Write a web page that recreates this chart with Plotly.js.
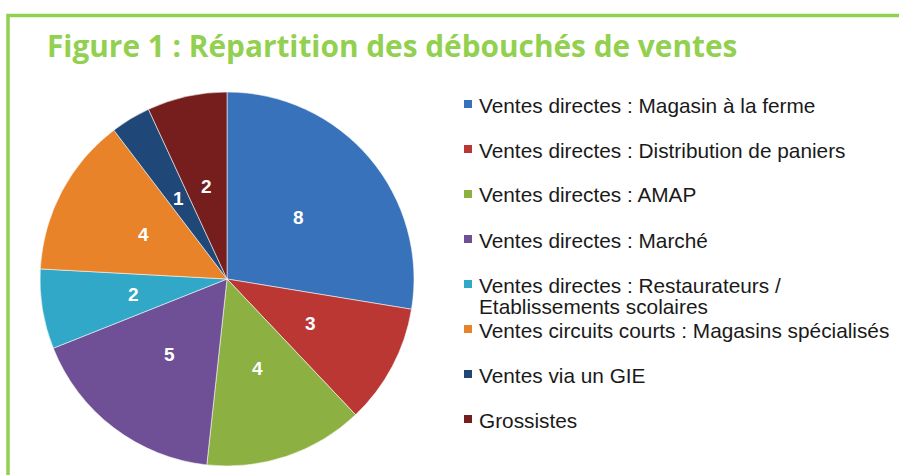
<!DOCTYPE html>
<html>
<head>
<meta charset="utf-8">
<script src="https://cdn.plot.ly/plotly-3.0.1.min.js"></script>
<style>html,body{margin:0;padding:0;background:#fff;}#chart{width:899px;height:475px;}</style>
</head>
<body>
<div id="chart"></div>
<script>
const categories = [
  "Ventes directes : Magasin à la ferme",
  "Ventes directes : Distribution de paniers",
  "Ventes directes : AMAP",
  "Ventes directes : Marché",
  "Ventes directes : Restaurateurs /<br>Etablissements scolaires",
  "Ventes circuits courts : Magasins spécialisés",
  "Ventes via un GIE",
  "Grossistes"
];
const values = [8, 3, 4, 5, 2, 4, 1, 2];
const colors = ["#3872BA", "#BA3734", "#8CB142", "#6F5097", "#31A8C8", "#E8832A", "#1F4778", "#761E1E"];
const titleText = "Figure 1 : Répartition des débouchés de ventes";

const W = 899, H = 475;
const px = x => x / W;
const py = y => 1 - y / H;

// pie placement (pixels)
const pieBox = { x0: 40, x1: 414, y0: 92, y1: 466 };

const pie = {
  type: "pie",
  labels: categories,
  values: values,
  sort: false,
  direction: "clockwise",
  rotation: 0,
  marker: { colors: colors, line: { color: "rgba(255,255,255,0.55)", width: 1 } },
  textinfo: "none",
  domain: { x: [px(pieBox.x0), px(pieBox.x1)], y: [py(pieBox.y1), py(pieBox.y0)] },
  showlegend: false,
  hoverinfo: "label+value"
};

const shapes = [
  { type: "rect", xref: "paper", yref: "paper", x0: px(8), x1: px(930), y0: py(520), y1: py(15.5),
    line: { color: "#92D050", width: 3.5 }, fillcolor: "rgba(0,0,0,0)", layer: "below" }
];
const annotations = [
  { text: "<b>" + titleText + "</b>", xref: "paper", yref: "paper", x: px(45), y: py(46),
    xanchor: "left", yanchor: "middle", showarrow: false,
    font: { family: "Open Sans, sans-serif", size: 29.8, color: "#92D050" } }
];

// value labels placed at mid-angle of each slice, halfway out
const total = values.reduce((a, b) => a + b, 0);
const cx = (pieBox.x0 + pieBox.x1) / 2, cyc = (pieBox.y0 + pieBox.y1) / 2;
const R = Math.min(pieBox.x1 - pieBox.x0, pieBox.y1 - pieBox.y0) / 2;
let cum = 0;
values.forEach((v) => {
  const mid = (cum + v / 2) / total * 2 * Math.PI;
  cum += v;
  const lx = cx + 0.505 * R * Math.sin(mid);
  const ly = cyc - 0.505 * R * Math.cos(mid);
  annotations.push({ text: "<b>" + v + "</b>", xref: "paper", yref: "paper", x: px(lx), y: py(ly),
    xanchor: "center", yanchor: "middle", showarrow: false,
    font: { family: "Liberation Sans, Arial, sans-serif", size: 19, color: "#ffffff" } });
});

// legend
categories.forEach((c, i) => {
  const ly = 104 + i * 45;
  shapes.push({ type: "rect", xref: "paper", yref: "paper",
    x0: px(464), x1: px(472), y0: py(ly + 4), y1: py(ly - 4),
    fillcolor: colors[i], line: { width: 0 } });
  c.split("<br>").forEach((line, k) => {
    annotations.push({ text: line, xref: "paper", yref: "paper", x: px(477), y: py(ly + 1 + k * 21),
      xanchor: "left", yanchor: "middle", align: "left", showarrow: false,
      font: { family: "Liberation Sans, Arial, sans-serif", size: 20.8, color: "#1a1a1a" } });
  });
});

const layout = {
  width: W, height: H,
  margin: { l: 0, r: 0, t: 0, b: 0 },
  paper_bgcolor: "#ffffff",
  showlegend: false,
  shapes: shapes,
  annotations: annotations
};
Plotly.newPlot("chart", [pie], layout, { displayModeBar: false, staticPlot: true });
</script>
</body>
</html>
